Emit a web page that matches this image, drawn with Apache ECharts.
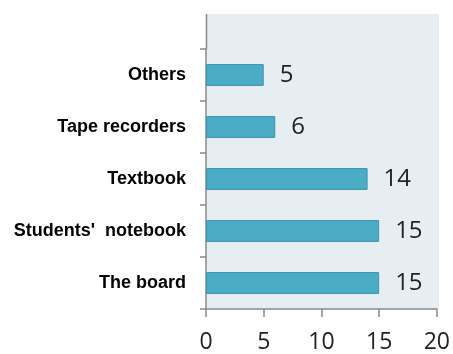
<!DOCTYPE html>
<html>
<head>
<meta charset="utf-8">
<script src="https://cdn.jsdelivr.net/npm/echarts@6/dist/echarts.min.js"></script>
<style>
  html, body { margin: 0; padding: 0; background: #ffffff; }
  #chart { width: 453px; height: 354px; }
</style>
</head>
<body>
<div id="chart"></div>
<script>
// Teaching aids used in class, bottom to top
const categories = ['The board', "Students'  notebook", 'Textbook', 'Tape recorders', 'Others'];
const counts = [15, 15, 14, 6, 5];
const xTicks = { min: 0, max: 20, interval: 5 };

const GRID = { left: 206, right: 15, top: 49, bottom: 45 };
const PLOT_BG_TOP = 14;
const W = 453, H = 354;

const chart = echarts.init(document.getElementById('chart'), null, { renderer: 'canvas' });

chart.setOption({
  animation: false,
  backgroundColor: '#ffffff',
  graphic: [
    {
      type: 'rect',
      z: -10,
      shape: { x: GRID.left, y: PLOT_BG_TOP, width: W - GRID.left - GRID.right + 1, height: H - GRID.bottom - PLOT_BG_TOP },
      style: { fill: '#e6eef2' },
      silent: true
    },
    {
      type: 'line',
      z: 5,
      shape: { x1: GRID.left + 0.5, y1: PLOT_BG_TOP, x2: GRID.left + 0.5, y2: GRID.top },
      style: { stroke: '#8a8a8a', lineWidth: 1.5 },
      silent: true
    }
  ],
  grid: { left: GRID.left, right: GRID.right, top: GRID.top, bottom: GRID.bottom, containLabel: false },
  xAxis: {
    type: 'value',
    min: xTicks.min,
    max: xTicks.max,
    interval: xTicks.interval,
    splitLine: { show: false },
    axisLine: { show: true, lineStyle: { color: '#8a8a8a', width: 1.5 } },
    axisTick: { show: true, inside: false, length: 8, lineStyle: { color: '#8a8a8a', width: 1.5 } },
    axisLabel: { color: '#222', fontSize: 23, fontFamily: 'Open Sans', margin: 22 }
  },
  yAxis: {
    type: 'category',
    data: categories,
    boundaryGap: true,
    axisLine: { show: true, lineStyle: { color: '#8a8a8a', width: 1.5 } },
    axisTick: { show: true, inside: false, length: 6, alignWithLabel: false, lineStyle: { color: '#8a8a8a', width: 1.5 } },
    axisLabel: { color: '#000', fontSize: 18, fontWeight: 'bold', fontFamily: 'Liberation Sans', margin: 20 }
  },
  series: [{
    type: 'bar',
    data: counts,
    barWidth: '42%',
    itemStyle: { color: '#4bacc6', borderColor: '#3c94ad', borderWidth: 1 },
    label: {
      show: true,
      position: 'right',
      distance: 16,
      color: '#222',
      fontSize: 24,
      fontFamily: 'Open Sans'
    }
  }]
});
</script>
</body>
</html>
